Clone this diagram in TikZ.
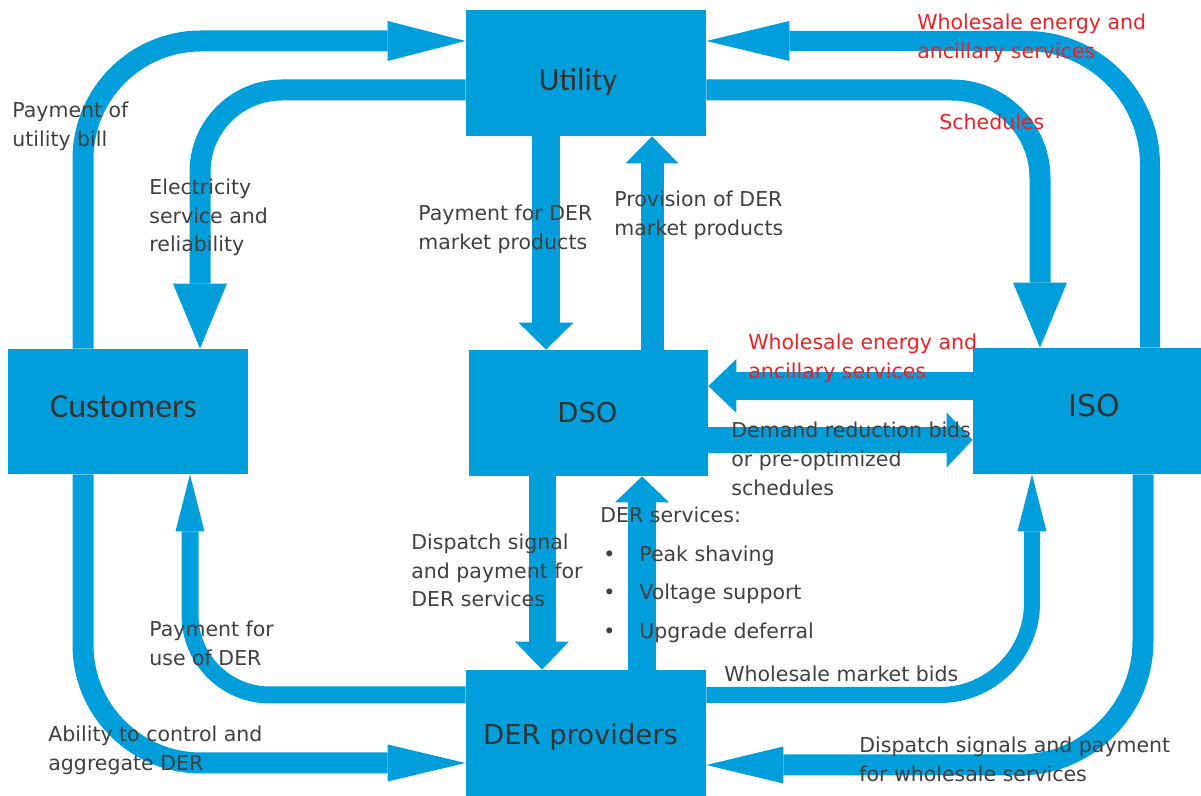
\documentclass[tikz,border=0pt]{standalone}
\usepackage{fontspec}
\usetikzlibrary{arrows.meta}
\newfontfamily\lblf{DejaVu Sans}
\newfontfamily\boxf{Carlito}
\definecolor{blu}{RGB}{0,158,218}
\definecolor{txt}{RGB}{64,64,64}
\definecolor{redt}{RGB}{238,32,38}
\begin{document}
\begin{tikzpicture}[x=0.5pt,y=-0.5pt,
  box/.style={fill=blu, draw=none, inner sep=0pt},
  boxlbl/.style={font=\boxf\fontsize{16pt}{19pt}\selectfont, text=black!80, anchor=base, inner sep=0pt},
  boxlblv/.style={font=\lblf\fontsize{13.7pt}{16pt}\selectfont, text=black!80, anchor=base, inner sep=0pt},
  flow/.style={draw=blu, line cap=butt, line join=miter},
  tip/.style 2 args={-{Triangle[width=#1 0 0,length=#2 0 0,line width=0pt 0 0]}},
  lbl/.style={font=\lblf\fontsize{10.25pt}{14.25pt}\selectfont, text=txt, align=left, anchor=north west, inner sep=0pt},
  rlbl/.style={lbl, text=redt}]
\useasboundingbox (0,0) rectangle (1201,796);
% boxes
\node[box, minimum width=120pt, minimum height=63pt] (util) at (586,73) {};
\node[box, minimum width=120pt, minimum height=62.5pt] (cust) at (128,411.5) {};
\node[box, minimum width=119.5pt, minimum height=63pt] (dso) at (588.5,413) {};
\node[box, minimum width=116pt, minimum height=63pt] (iso) at (1089,411) {};
\node[box, minimum width=120pt, minimum height=64pt] (der) at (586,734) {};
% connectors
\draw[flow, line width=10.5pt, tip={20pt}{39pt}, rounded corners=59pt]
  (83,0 |- cust.north) -- (83,41) -- (util.west |- 0,41);
\draw[flow, line width=10.5pt, tip={27pt}{32.5pt}, rounded corners=41pt]
  (util.west |- 0,90) -- (200,90) -- (200,0 |- cust.north);
\draw[flow, line width=10.5pt, tip={27pt}{32.5pt}, rounded corners=44pt]
  (util.east |- 0,90) -- (1040,90) -- (1040,0 |- iso.north);
\draw[flow, line width=10pt, tip={20pt}{41.5pt}, rounded corners=62pt]
  (1150,0 |- iso.north) -- (1150,41) -- (util.east |- 0,41);
\draw[flow, line width=14pt, tip={27.5pt}{13.5pt}]
  (546,0 |- util.south) -- (546,0 |- dso.north);
\draw[flow, line width=11.5pt, tip={26.5pt}{13.5pt}]
  (652,0 |- dso.north) -- (652,0 |- util.south);
\draw[flow, line width=14pt, tip={27pt}{14pt}]
  (iso.west |- 0,386) -- (dso.east |- 0,386);
\draw[flow, line width=13pt, tip={27.5pt}{13pt}]
  (dso.east |- 0,440) -- (iso.west |- 0,440);
\draw[flow, line width=13.5pt, tip={27pt}{14pt}]
  (542,0 |- dso.south) -- (542,0 |- der.north);
\draw[flow, line width=14pt, tip={27pt}{13pt}]
  (642,0 |- der.north) -- (642,0 |- dso.south);
\draw[flow, line width=8.5pt, tip={14.5pt}{28.5pt}, rounded corners=40pt]
  (der.west |- 0,695) -- (190,695) -- (190,0 |- cust.south);
\draw[flow, line width=10.5pt, tip={18.5pt}{39pt}, rounded corners=59pt]
  (83,0 |- cust.south) -- (83,763) -- (der.west |- 0,763);
\draw[flow, line width=8pt, tip={14.5pt}{28.5pt}, rounded corners=46pt]
  (der.east |- 0,695) -- (1032,695) -- (1032,0 |- iso.south);
\draw[flow, line width=10.5pt, tip={18.5pt}{38.5pt}, rounded corners=62pt]
  (1143,0 |- iso.south) -- (1143,765) -- (der.east |- 0,765);
% box labels
\node[boxlbl] (utilT) at (578,91) {Utility};
\node[boxlbl, font=\boxf\fontsize{17pt}{19pt}\selectfont] (custT) at (123.5,418) {Customers};
\node[boxlblv] (dsoT) at (587.5,423) {DSO};
\node[boxlblv, font=\lblf\fontsize{15pt}{17pt}\selectfont] (isoT) at (1094,417) {ISO};
\node[boxlblv] (derT) at (580.5,745) {DER providers};
% connector labels
\node[lbl] (t1) at (12,102) {Payment of\\utility bill};
\node[lbl] (t2) at (149,179) {Electricity\\service and\\reliability};
\node[lbl] (t3) at (418,205) {Payment for DER\\market products};
\node[lbl] (t4) at (614,191) {Provision of DER\\market products};
\node[rlbl] (t5) at (917,14) {Wholesale energy and\\ancillary services};
\node[rlbl] (t6) at (939,114) {Schedules};
\node[rlbl] (t7) at (748,334) {Wholesale energy and\\ancillary services};
\node[lbl, font=\lblf\fontsize{10.25pt}{14.5pt}\selectfont] (t8) at (731,422) {Demand reduction bids\\or pre-optimized\\schedules};
\node[lbl, font=\lblf\fontsize{10.25pt}{19.25pt}\selectfont] (t9) at (600,507)
  {DER services:\\\hspace*{1.5pt}\makebox[18pt][l]{\textbullet}Peak shaving\\\hspace*{1.5pt}\makebox[18pt][l]{\textbullet}Voltage support\\\hspace*{1.5pt}\makebox[18pt][l]{\textbullet}Upgrade deferral};
\node[lbl] (t10) at (411,534) {Dispatch signal\\and payment for\\DER services};
\node[lbl] (t11) at (149,621) {Payment for\\use of DER};
\node[lbl] (t12) at (724,666) {Wholesale market bids};
\node[lbl] (t13) at (48,726) {Ability to control and\\aggregate DER};
\node[lbl] (t14) at (859,737) {Dispatch signals and payment\\for wholesale services};
\end{tikzpicture}
\end{document}
